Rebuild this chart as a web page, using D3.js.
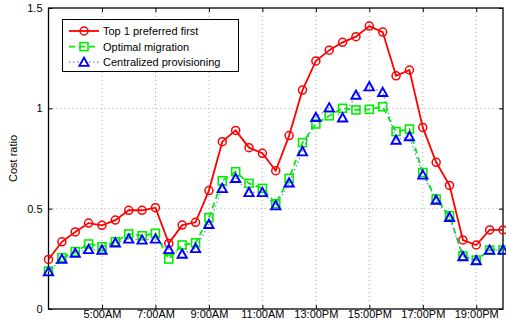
<!DOCTYPE html>
<html>
<head>
<meta charset="utf-8">
<script src="https://cdn.jsdelivr.net/npm/d3@7/dist/d3.min.js"></script>
<style>
  html, body { margin: 0; padding: 0; background: #fff; }
  svg { display: block; font-family: "Liberation Sans", Arial, sans-serif; }
</style>
</head>
<body>
<svg id="chart" width="506" height="324"></svg>
<script>
// Hour of day for each sample (half-hour steps, 3:00 to 20:00)
const hours = [3, 3.5, 4, 4.5, 5, 5.5, 6, 6.5, 7, 7.5, 8, 8.5, 9, 9.5, 10, 10.5, 11, 11.5,
               12, 12.5, 13, 13.5, 14, 14.5, 15, 15.5, 16, 16.5, 17, 17.5, 18, 18.5, 19, 19.5, 20];

const topPreferred = [0.247, 0.335, 0.384, 0.428, 0.417, 0.443, 0.492, 0.492, 0.505, 0.327,
                      0.418, 0.432, 0.590, 0.834, 0.890, 0.804, 0.776, 0.689, 0.864, 1.091,
                      1.236, 1.290, 1.329, 1.357, 1.410, 1.380, 1.162, 1.191, 0.905, 0.731,
                      0.616, 0.344, 0.319, 0.394, 0.394];

const optimalMigration = [0.189, 0.256, 0.286, 0.324, 0.310, 0.335, 0.374, 0.365, 0.377, 0.249,
                          0.319, 0.330, 0.455, 0.639, 0.684, 0.626, 0.601, 0.525, 0.651, 0.829,
                          0.922, 0.963, 1.000, 0.992, 0.995, 1.008, 0.884, 0.897, 0.680, 0.548,
                          0.465, 0.264, 0.244, 0.294, 0.294];

const centralized = [0.186, 0.248, 0.278, 0.297, 0.294, 0.330, 0.349, 0.344, 0.349, 0.297,
                     0.274, 0.302, 0.422, 0.601, 0.651, 0.581, 0.581, 0.515, 0.629, 0.784,
                     0.955, 1.003, 0.953, 1.066, 1.108, 1.080, 0.842, 0.859, 0.668, 0.543,
                     0.457, 0.261, 0.241, 0.294, 0.294];

const xTickHours = [5, 7, 9, 11, 13, 15, 17, 19];
const xTickLabels = ["5:00AM", "7:00AM", "9:00AM", "11:00AM", "13:00PM", "15:00PM", "17:00PM", "19:00PM"];
const yTicks = [0, 0.5, 1, 1.5];
const yTickLabels = ["0", "0.5", "1", "1.5"];

const seriesNames = ["Top 1 preferred first", "Optimal migration", "Centralized provisioning"];

const svg = d3.select("#chart");
const plot = { left: 48.5, right: 503, top: 8, bottom: 309 };

const x = d3.scaleLinear().domain([3, 20]).range([plot.left, plot.right]);
const y = d3.scaleLinear().domain([0, 1.5]).range([plot.bottom, plot.top]);

// Dotted grid
const grid = svg.append("g");
xTickHours.forEach(h => {
  grid.append("line")
    .attr("x1", x(h)).attr("x2", x(h))
    .attr("y1", plot.top).attr("y2", plot.bottom)
    .attr("stroke", "#999").attr("stroke-width", 0.8)
    .attr("stroke-dasharray", "1,3");
});
[0.5, 1].forEach(v => {
  grid.append("line")
    .attr("x1", plot.left).attr("x2", plot.right)
    .attr("y1", y(v)).attr("y2", y(v))
    .attr("stroke", "#999").attr("stroke-width", 0.8)
    .attr("stroke-dasharray", "1,3");
});

// Axes (ticks pointing inward, boxed style)
const xAxis = d3.axisBottom(x).tickValues(xTickHours)
  .tickFormat((d, i) => xTickLabels[i]).tickSize(-4).tickPadding(1.5);
const gx = svg.append("g").attr("transform", `translate(0,${plot.bottom})`).call(xAxis);
gx.select(".domain").remove();
gx.selectAll("text").attr("font-size", 11).attr("fill", "#000")
  .attr("font-family", "Liberation Sans, Arial, sans-serif");
gx.selectAll(".tick line").attr("stroke", "#000");

const xAxisTop = d3.axisTop(x).tickValues(xTickHours).tickFormat("").tickSize(-4);
const gxt = svg.append("g").attr("transform", `translate(0,${plot.top})`).call(xAxisTop);
gxt.select(".domain").remove();

const yAxis = d3.axisLeft(y).tickValues(yTicks)
  .tickFormat((d, i) => yTickLabels[i]).tickSize(-4).tickPadding(6);
const gy = svg.append("g").attr("transform", `translate(${plot.left},0)`).call(yAxis);
gy.select(".domain").remove();
gy.selectAll("text").attr("font-size", 11).attr("fill", "#000")
  .attr("font-family", "Liberation Sans, Arial, sans-serif");

const yAxisRight = d3.axisRight(y).tickValues(yTicks).tickFormat("").tickSize(-4);
const gyr = svg.append("g").attr("transform", `translate(${plot.right},0)`).call(yAxisRight);
gyr.select(".domain").remove();

// Axis box
svg.append("rect")
  .attr("x", plot.left).attr("y", plot.top)
  .attr("width", plot.right - plot.left).attr("height", plot.bottom - plot.top)
  .attr("fill", "none").attr("stroke", "#000").attr("stroke-width", 1.3);

// Y label
svg.append("text")
  .attr("transform", `translate(17,${(plot.top + plot.bottom) / 2}) rotate(-90)`)
  .attr("text-anchor", "middle")
  .attr("font-size", 11)
  .text("Cost ratio");

const line = d3.line().x((d, i) => x(hours[i])).y(d => y(d));

// Marker drawers
function circle(g, cx, cy) {
  g.append("circle").attr("cx", cx).attr("cy", cy).attr("r", 4)
    .attr("fill", "none").attr("stroke", "#ff0000").attr("stroke-width", 1.5);
}
function square(g, cx, cy) {
  g.append("rect").attr("x", cx - 4).attr("y", cy - 4).attr("width", 8).attr("height", 8)
    .attr("fill", "none").attr("stroke", "#00ee00").attr("stroke-width", 1.6);
}
function triangle(g, cx, cy) {
  const s = 4.6;
  g.append("path")
    .attr("d", `M${cx},${cy - s}L${cx + s},${cy + s * 0.8}L${cx - s},${cy + s * 0.8}Z`)
    .attr("fill", "none").attr("stroke", "#0000ff").attr("stroke-width", 1.9);
}

const series = [
  { name: seriesNames[0], values: topPreferred, color: "#ff0000", width: 1.8, dash: null, marker: circle },
  { name: seriesNames[1], values: optimalMigration, color: "#00ee00", width: 1.8, dash: "6,4", marker: square },
  { name: seriesNames[2], values: centralized, color: "#7777ff", width: 1.2, dash: "1.5,2.5", marker: triangle }
];

series.forEach(s => {
  const g = svg.append("g");
  g.append("path").datum(s.values)
    .attr("d", line)
    .attr("fill", "none")
    .attr("stroke", s.color)
    .attr("stroke-width", s.width)
    .attr("stroke-dasharray", s.dash);
  s.values.forEach((v, i) => s.marker(g, x(hours[i]), y(v)));
});

// Legend
const lg = svg.append("g");
lg.append("rect").attr("x", 62.5).attr("y", 19.5).attr("width", 176).attr("height", 52)
  .attr("fill", "#fff").attr("stroke", "#000").attr("stroke-width", 1);
series.forEach((s, i) => {
  const cy = 31 + i * 15.6;
  lg.append("line").attr("x1", 69).attr("x2", 99).attr("y1", cy).attr("y2", cy)
    .attr("stroke", s.color).attr("stroke-width", s.width).attr("stroke-dasharray", s.dash);
  s.marker(lg, 84, cy);
  lg.append("text").attr("x", 103).attr("y", cy + 4).attr("font-size", 11).text(s.name);
});
</script>
</body>
</html>
